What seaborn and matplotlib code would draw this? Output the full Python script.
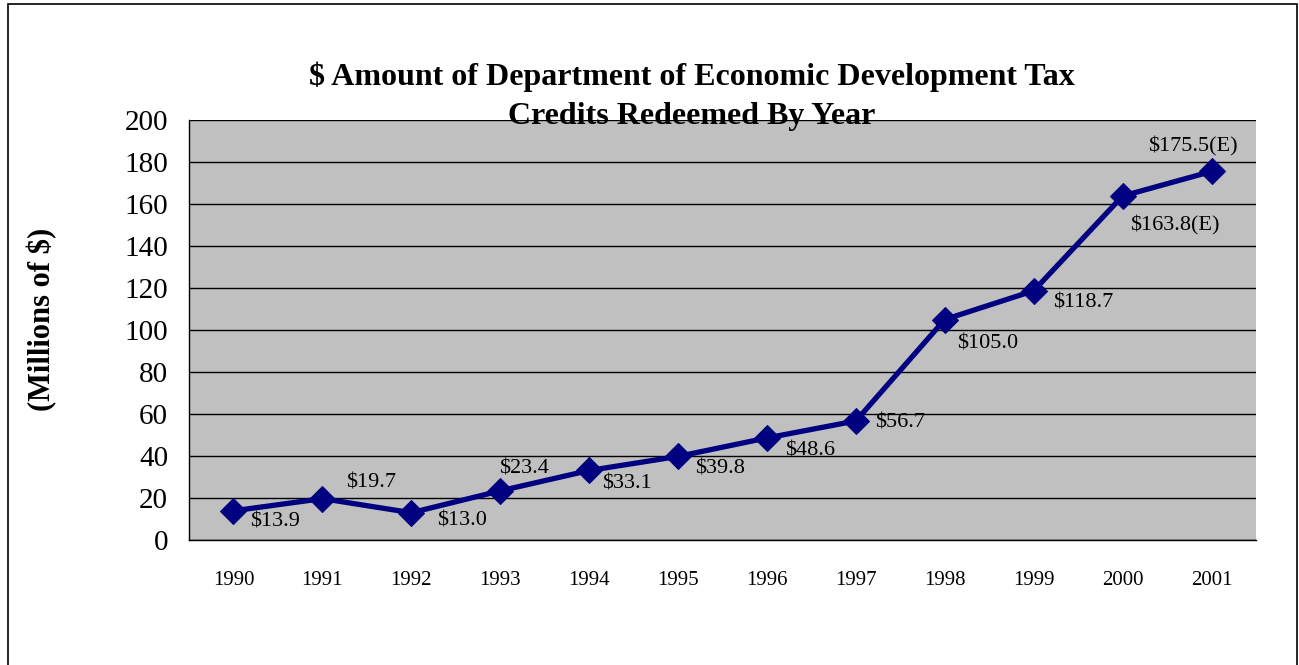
import numpy as np
import pandas as pd
import matplotlib
matplotlib.use("Agg")
import matplotlib.pyplot as plt
import seaborn as sns
from matplotlib.patches import Rectangle

years = ["1990", "1991", "1992", "1993", "1994", "1995",
         "1996", "1997", "1998", "1999", "2000", "2001"]
credits = [13.9, 19.7, 13.0, 23.4, 33.1, 39.8, 48.6, 56.7, 105.0, 118.7, 163.8, 175.5]
value_labels = ["$13.9", "$19.7", "$13.0", "$23.4", "$33.1", "$39.8",
                "$48.6", "$56.7", "$105.0", "$118.7", "$163.8(E)", "$175.5(E)"]
# label offsets from each point, in pixels (right, down)
label_offsets = [(42, 11), (49, -16), (51, 8), (24, -22), (38, 14), (42, 13),
                 (43, 13), (44, 2), (43, 24), (49, 12), (52, 29), (-19, -25)]

sns.set_style("white")
plt.rcParams["font.family"] = ["Liberation Serif", "DejaVu Serif"]
plt.rcParams["text.color"] = "black"
plt.rcParams["xtick.color"] = "black"
plt.rcParams["ytick.color"] = "black"

df = pd.DataFrame({"pos": np.arange(len(years)), "value": credits})

fig = plt.figure(figsize=(12.99, 6.65), dpi=100)
ax = fig.add_axes([189 / 1299, 125 / 665, (1256 - 189) / 1299, (540 - 120) / 665])
ax.set_facecolor("#C0C0C0")

navy = "#000080"
sns.lineplot(data=df, x="pos", y="value", ax=ax, color=navy, linewidth=3.8,
             marker="D", markersize=13.5, markeredgecolor=navy, zorder=3)

ax.set_ylim(0, 200)
ax.set_yticks(np.arange(0, 201, 20))
ax.set_xlim(-0.5, len(years) - 0.5)
ax.set_xticks(np.arange(len(years)))
ax.set_xticklabels(years, fontsize=15)
ax.set_xticks(np.arange(-0.5, len(years)), minor=True)
ax.tick_params(axis="x", which="major", length=0, pad=22)
ax.tick_params(axis="x", which="minor", length=6, width=1, color="black", direction="out")
ax.tick_params(axis="y", length=6, width=1, color="black", direction="out", labelsize=21, pad=9)
ax.yaxis.grid(True, color="black", linewidth=1)
ax.set_axisbelow(True)
for side in ["top", "right"]:
    ax.spines[side].set_visible(False)
for side in ["left", "bottom"]:
    ax.spines[side].set_color("black")
    ax.spines[side].set_linewidth(1)
ax.set_xlabel("")
ax.set_ylabel("")

for i, (txt, (dx, dy)) in enumerate(zip(value_labels, label_offsets)):
    ax.annotate(txt, (i, credits[i]), xytext=(dx * 0.72, -dy * 0.72),
                textcoords="offset points", ha="center", va="center",
                fontsize=16, color="black", zorder=4)

fig.text(692 / 1299, 1 - 96 / 665,
         "$ Amount of Department of Economic Development Tax\nCredits Redeemed By Year",
         ha="center", va="center", fontsize=23, fontweight="bold",
         linespacing=1.45, zorder=5)
fig.text(42 / 1299, 1 - 319 / 665, "(Millions of $)", rotation=90,
         ha="center", va="center", fontsize=22, fontweight="bold")

fig.patches.append(Rectangle((8 / 1299, -0.05), (1297 - 8) / 1299, 1.05 - 4 / 665,
                             transform=fig.transFigure, fill=False,
                             edgecolor="black", linewidth=1.2))

fig.savefig("out.png", dpi=100)
